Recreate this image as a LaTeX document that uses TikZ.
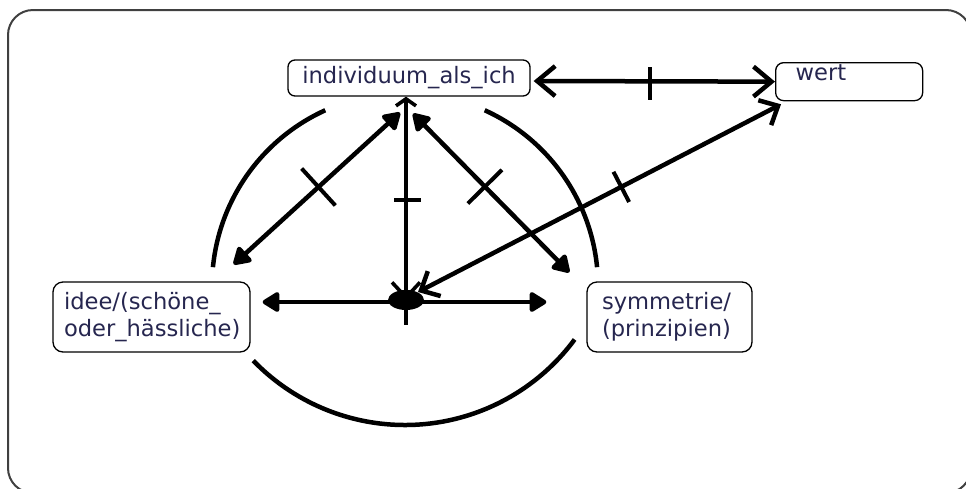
\documentclass[tikz,border=0pt]{standalone}
\usepackage{fontspec}
\setmainfont{DejaVu Sans}
\usetikzlibrary{arrows.meta,calc}
\definecolor{txt}{HTML}{26264F}
\definecolor{framecol}{HTML}{404040}
\begin{document}
\begin{tikzpicture}[x=1pt,y=1pt,
  box/.style={draw=black, line width=1.3pt, inner sep=0pt, font=\fontsize{22.6}{26.5}\selectfont, text=txt},
  conn/.style={line width=4.5pt, black},
  tickline/.style={line width=4pt, black},
  arcline/.style={line width=4.5pt, black},
  barbbig/.tip={Straight Barb[length=18pt,width=30pt]},
  barbhub/.tip={Straight Barb[length=15pt,width=28pt]},
  barbsmall/.tip={Straight Barb[length=7pt,width=20pt]},
  tri/.tip={Triangle[length=19pt,width=22pt,round]},
]
\useasboundingbox (0,0) rectangle (966,-488);
\clip (0,0) rectangle (966,-488);
\draw[framecol, line width=2pt, rounded corners=25pt] (8,-10) rectangle (971,-493);

% boxes
\node[box, rounded corners=7pt, minimum width=242pt, minimum height=36pt] (ind) at (409,-78) {individuum\_als\_ich};
\node[box, rounded corners=8pt, anchor=north west, text width=107pt, inner xsep=20pt, inner ysep=0pt, text height=18pt, text depth=20pt, align=left] (wert) at (775,-62) {wert};
\node[box, rounded corners=10pt, minimum height=70pt, text width=175pt, inner xsep=11pt, align=left] (idee) at (151.5,-317) {idee/(schöne\_\\oder\_hässliche)};
\node[box, rounded corners=10pt, minimum height=70pt, text width=135pt, inner xsep=15pt, align=left] (sym) at (669.5,-317) {symmetrie/\\(prinzipien)};
\coordinate (hub) at (406,-300);

% circle arcs
\draw[arcline] (405,-286) ++(114.4:193) arc[start angle=114.4, end angle=174.4, radius=193];
\draw[arcline] (405,-286) ++(5.6:193) arc[start angle=5.6, end angle=65.6, radius=193];
\draw[arcline] (405,-214) ++(224:211) arc[start angle=224, end angle=323.5, radius=211];

% connector end points
\coordinate (iw1) at ($(ind.east)+(3,-3)$);
\coordinate (iw2) at (wert.west);
\coordinate (v1) at (ind.south -| hub);
\coordinate (dl1) at ($(idee.north east)+(-17,17)$);
\coordinate (dl2) at ($(ind.south)+(-9,-16)$);
\coordinate (dr1) at ($(ind.south)+(4,-17)$);
\coordinate (dr2) at ($(sym.north west)+(-17,9)$);
\coordinate (h1) at ($(idee.east)+(12,15)$);
\coordinate (h2) at ($(sym.west)+(-40,15)$);
\coordinate (w1) at ($(wert.south west)+(6,-3)$);
\coordinate (w2) at ($(hub)+(12,8)$);

% connectors
\draw[conn, barbbig-barbbig] (iw1) -- (iw2);
\draw[line width=3.6pt, barbsmall-barbhub] (v1) -- (hub);
\draw[conn, tri-tri] (dl1) -- (dl2);
\draw[conn, tri-tri] (dr1) -- (dr2);
\draw[conn, tri-tri] (h1) -- (h2);
\draw[conn, barbhub-barbhub] (w1) -- (w2);
\fill (hub) ellipse[x radius=18, y radius=10];

% ticks
\coordinate (tiw) at ($(iw1)!0.48!(iw2)$);
\draw[tickline] ($(tiw)+(0,14)$) -- ($(tiw)+(0,-19)$);
\coordinate (tv) at ($(v1)!0.51!(hub)$);
\draw[tickline] ($(tv)+(-12,0)$) -- ($(tv)+(15,0)$);
\coordinate (th) at ($(h1)!0.505!(h2)$);
\draw[tickline] ($(th)+(0,12)$) -- ($(th)+(0,-23)$);
\coordinate (tl) at ($(dl1)!0.51!(dl2)$);
\draw[tickline] ($(tl)!25pt!90:(dl2)$) -- ($(tl)!25pt!-90:(dl2)$);
\coordinate (tr) at ($(dr1)!0.46!(dr2)$);
\draw[tickline] ($(tr)!24pt!90:(dr2)$) -- ($(tr)!24pt!-90:(dr2)$);
\coordinate (tw) at ($(w1)!0.44!(w2)$);
\draw[tickline] ($(tw)!17pt!90:(w2)$) -- ($(tw)!17pt!-90:(w2)$);
\end{tikzpicture}
\end{document}
